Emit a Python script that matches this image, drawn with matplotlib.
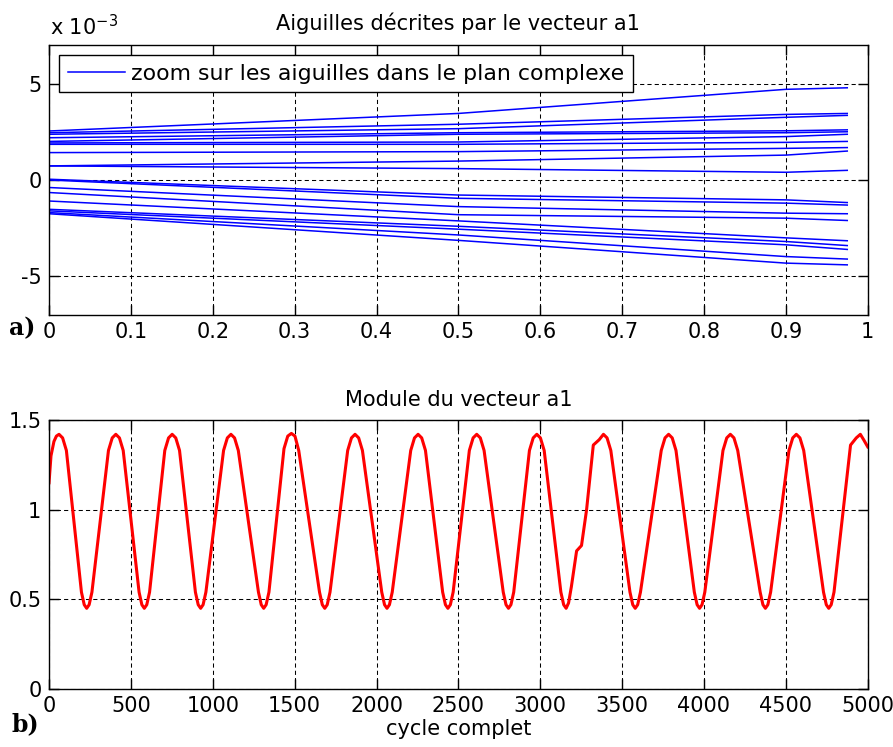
import matplotlib
matplotlib.use('Agg')
import matplotlib.pyplot as plt

# --- panel a) : needles, values in units of 1e-3 ---
needle_x = [0, 0.5, 0.9, 0.975]
needle_y = [
    [2.54, 3.45, 4.70, 4.78],
    [2.45, 2.89, 3.40, 3.45],
    [2.37, 2.66, 3.25, 3.35],
    [2.19, 2.45, 2.55, 2.60],
    [2.00, 2.37, 2.45, 2.50],
    [1.92, 1.97, 2.25, 2.37],
    [1.85, 1.85, 1.95, 2.00],
    [1.42, 1.47, 1.64, 1.68],
    [0.73, 0.98, 1.29, 1.50],
    [0.73, 0.59, 0.40, 0.50],
    [0.04, -0.78, -1.03, -1.17],
    [0.00, -0.95, -1.20, -1.30],
    [-0.39, -1.38, -1.72, -1.75],
    [-0.65, -1.80, -1.98, -2.10],
    [-1.09, -2.12, -3.00, -3.15],
    [-1.52, -2.40, -3.19, -3.40],
    [-1.60, -2.55, -3.36, -3.60],
    [-1.69, -2.85, -3.97, -4.10],
    [-1.75, -3.13, -4.31, -4.40],
]
legend_label = 'zoom sur les aiguilles dans le plan complexe'
top_xticks = [0, 0.1, 0.2, 0.3, 0.4, 0.5, 0.6, 0.7, 0.8, 0.9, 1]
top_xlabels = ['0', '0.1', '0.2', '0.3', '0.4', '0.5', '0.6', '0.7', '0.8', '0.9', '1']
top_yticks = [-5, 0, 5]

# --- panel b) : module of vector a1 ---
module_x = [0, 12, 30, 45, 61, 83, 106,
            198, 215, 230, 245, 262,
            363, 386, 408, 430, 453,
            550, 567, 582, 597, 614,
            707, 730, 752, 774, 797,
            894, 911, 926, 941, 958,
            1066, 1089, 1111, 1133, 1156,
            1279, 1296, 1311, 1326, 1343,
            1435, 1458, 1480, 1502, 1525,
            1652, 1669, 1684, 1699, 1716,
            1824, 1847, 1869, 1891, 1914,
            2032, 2049, 2064, 2079, 2096,
            2209, 2232, 2254, 2276, 2299,
            2404, 2421, 2436, 2451, 2468,
            2567, 2590, 2612, 2634, 2657,
            2774, 2791, 2806, 2821, 2838,
            2934, 2957, 2979, 3001, 3024,
            3126, 3143, 3158, 3173, 3190, 3222, 3252, 3283,
            3324, 3360, 3386, 3408, 3431,
            3548, 3565, 3580, 3595, 3612,
            3739, 3762, 3784, 3806, 3829,
            3941, 3958, 3973, 3988, 4005,
            4116, 4139, 4161, 4183, 4206,
            4343, 4360, 4375, 4390, 4407,
            4519, 4542, 4564, 4586, 4609,
            4730, 4747, 4762, 4777, 4794,
            4895, 4930, 4955, 4975, 5000]
module_y = [1.15, 1.30, 1.38, 1.41, 1.42, 1.40, 1.33,
            0.54, 0.47, 0.45, 0.47, 0.54,
            1.33, 1.40, 1.42, 1.40, 1.33,
            0.54, 0.47, 0.45, 0.47, 0.54,
            1.33, 1.40, 1.42, 1.40, 1.33,
            0.54, 0.47, 0.45, 0.47, 0.54,
            1.33, 1.40, 1.42, 1.40, 1.33,
            0.54, 0.47, 0.45, 0.47, 0.54,
            1.34, 1.41, 1.425, 1.41, 1.33,
            0.54, 0.47, 0.45, 0.47, 0.54,
            1.33, 1.40, 1.42, 1.40, 1.33,
            0.54, 0.47, 0.45, 0.47, 0.54,
            1.33, 1.40, 1.42, 1.40, 1.33,
            0.54, 0.47, 0.45, 0.47, 0.54,
            1.33, 1.40, 1.42, 1.40, 1.33,
            0.54, 0.47, 0.45, 0.47, 0.54,
            1.33, 1.40, 1.42, 1.40, 1.33,
            0.54, 0.47, 0.45, 0.48, 0.57, 0.77, 0.80, 1.00,
            1.36, 1.39, 1.42, 1.40, 1.33,
            0.54, 0.47, 0.45, 0.47, 0.54,
            1.33, 1.40, 1.42, 1.40, 1.33,
            0.54, 0.47, 0.45, 0.47, 0.54,
            1.33, 1.40, 1.42, 1.40, 1.33,
            0.54, 0.47, 0.45, 0.47, 0.54,
            1.33, 1.40, 1.42, 1.40, 1.33,
            0.54, 0.47, 0.45, 0.47, 0.54,
            1.36, 1.40, 1.42, 1.39, 1.35]
bottom_xticks = [0, 500, 1000, 1500, 2000, 2500, 3000, 3500, 4000, 4500, 5000]
bottom_yticks = [0, 0.5, 1, 1.5]
bottom_ylabels = ['0', '0.5', '1', '1.5']

plt.rcParams['font.family'] = 'DejaVu Sans'
plt.rcParams['font.size'] = 15
plt.rcParams['mathtext.default'] = 'regular'


def style_axes(ax):
    ax.set_axisbelow(True)
    ax.grid(True, color='black', linestyle=(0, (4, 3)), linewidth=0.75)
    ax.tick_params(direction='in', length=7.5, width=1, top=True, right=True,
                   labelsize=15, colors='black')
    ax.tick_params(axis='x', pad=5)
    ax.tick_params(axis='y', pad=5.5)
    for s in ax.spines.values():
        s.set_linewidth(1.0)
        s.set_color('black')


fig = plt.figure(figsize=(8.93, 7.47), dpi=100)
ax1 = fig.add_axes([0.0549, 0.5783, 0.9168, 0.3615])
ax2 = fig.add_axes([0.0549, 0.0776, 0.9168, 0.3602])

# top panel
for i, ys in enumerate(needle_y):
    ax1.plot(needle_x, [v * 1e-3 for v in ys], color='#0000ff', lw=1.1,
             label=legend_label if i == 0 else None)
ax1.set_xlim(0, 1)
ax1.set_ylim(-7e-3, 7e-3)
ax1.set_xticks(top_xticks)
ax1.set_xticklabels(top_xlabels)
ax1.set_yticks([v * 1e-3 for v in top_yticks])
ax1.set_yticklabels(['-5', '0', '5'])
style_axes(ax1)
ax1.set_title('Aiguilles décrites par le vecteur a1', pad=11, fontsize=15)
leg = ax1.legend(loc='upper left', fancybox=False, edgecolor='black', framealpha=1,
                 handlelength=2.6, borderpad=0.4, borderaxespad=0.45,
                 handletextpad=0.3, fontsize=15.8)
leg.get_frame().set_linewidth(1.0)

# bottom panel
ax2.plot(module_x, module_y, color='#ff0000', lw=2.2)
ax2.set_xlim(0, 5000)
ax2.set_ylim(0, 1.5)
ax2.set_xticks(bottom_xticks)
ax2.set_xticklabels([str(v) for v in bottom_xticks])
ax2.set_yticks(bottom_yticks)
ax2.set_yticklabels(bottom_ylabels)
style_axes(ax2)
ax2.set_title('Module du vecteur a1', pad=10, fontsize=15)
ax2.set_xlabel('cycle complet', labelpad=2)

# exponent and panel tags
fig.text(50 / 893, 1 - 35 / 747, 'x 10$^{-3}$', ha='left', va='baseline', fontsize=15)
fig.text(9 / 893, 1 - 335 / 747, 'a)', family='DejaVu Serif', weight='bold',
         fontsize=17, va='baseline')
fig.text(11 / 893, 1 - 731 / 747, 'b)', family='DejaVu Serif', weight='bold',
         fontsize=17, va='baseline')

fig.savefig('out.png', dpi=100)
plt.close(fig)
